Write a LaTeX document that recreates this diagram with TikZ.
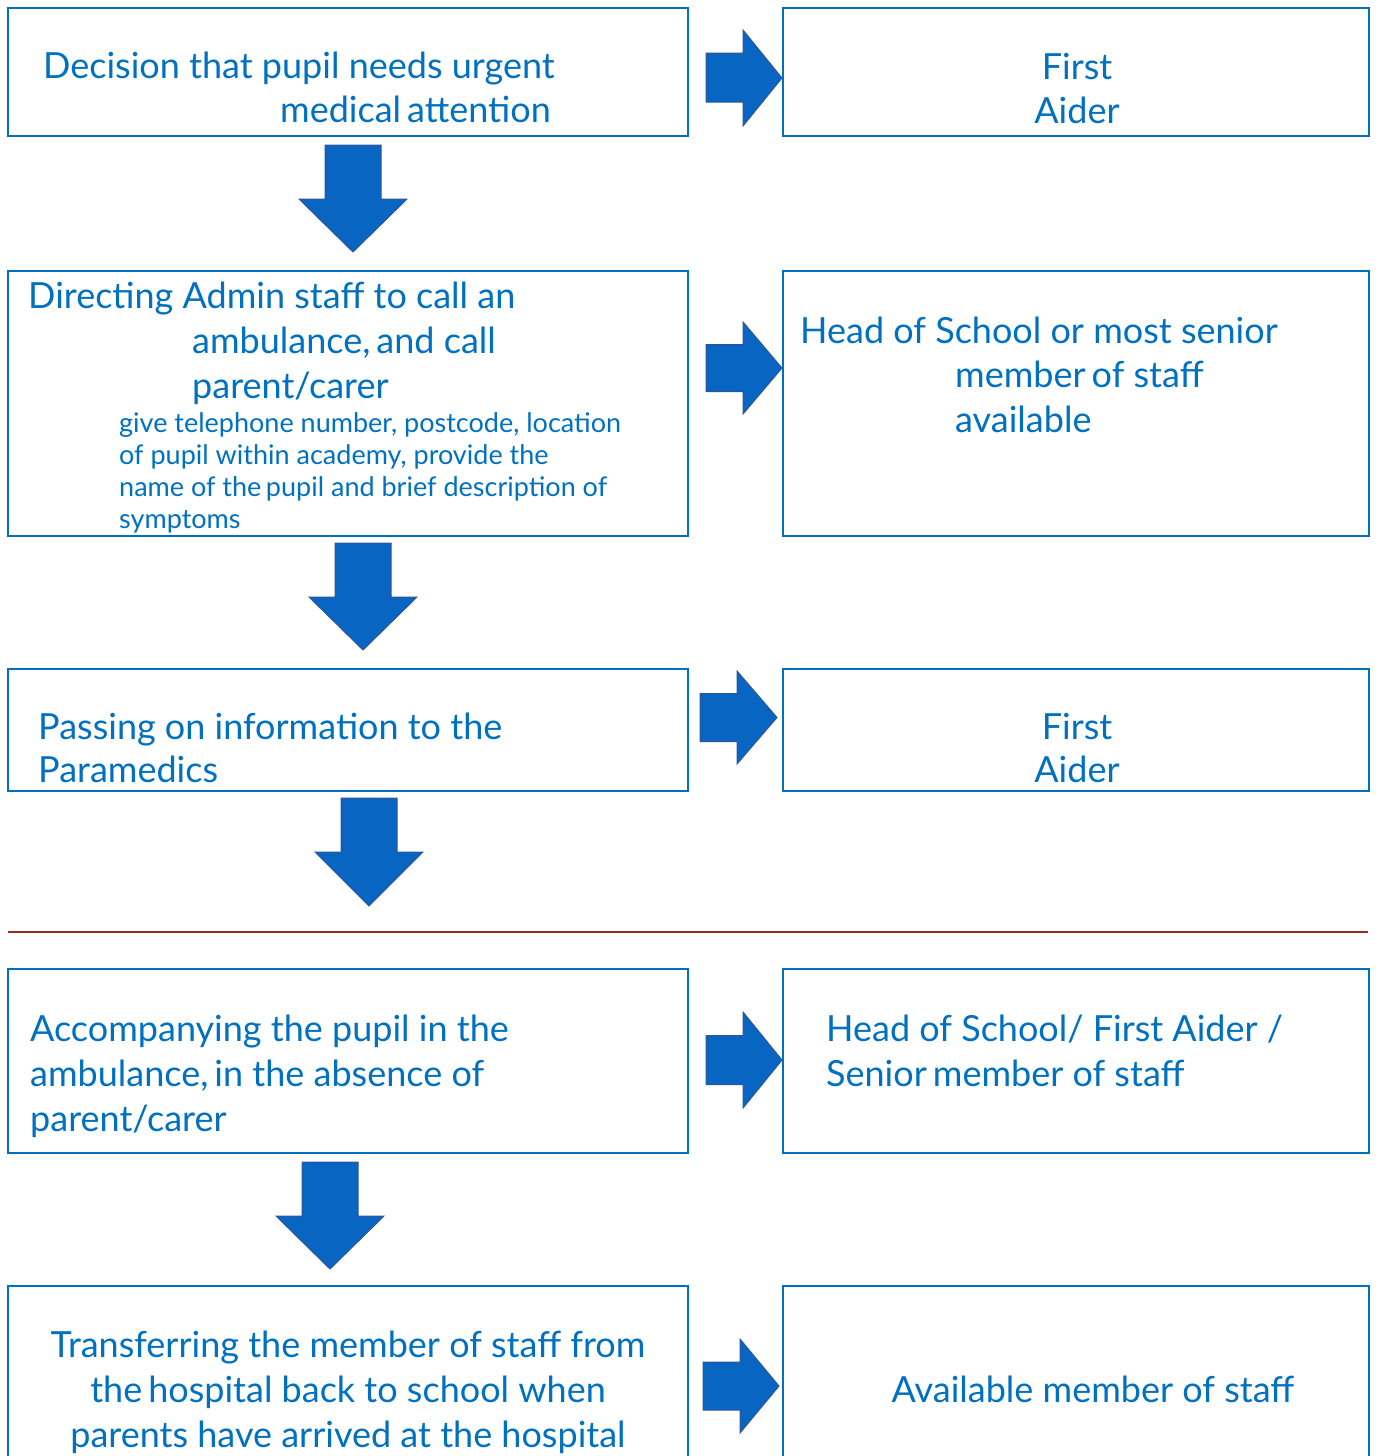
\documentclass[tikz,border=0pt]{standalone}
\usepackage{fontspec}
\setmainfont{Lato}
\definecolor{txtblue}{HTML}{0070C0}
\definecolor{boxblue}{HTML}{0070C0}
\definecolor{arrfill}{HTML}{0866C2}
\definecolor{arredge}{HTML}{2F5597}
\definecolor{sepred}{HTML}{9C2A16}
\begin{document}
\begin{tikzpicture}[x=1pt,y=-1pt,
  box/.style={draw=boxblue,line width=1.6pt},
  blk/.style={fill=arrfill,draw=arredge,line width=1pt,line join=miter},
  big/.style={inner sep=0pt,text=txtblue,font=\fontsize{36}{42}\selectfont},
  small/.style={inner sep=0pt,text=txtblue,font=\fontsize{27}{32}\selectfont}]
\useasboundingbox (0,0) rectangle (1376,1456);
% boxes
\draw[box] (8,8) rectangle (688,136);
\draw[box] (783,8) rectangle (1369,136);
\draw[box] (8,271) rectangle (688,536);
\draw[box] (783,271) rectangle (1369,536);
\draw[box] (8,669) rectangle (688,791);
\draw[box] (783,669) rectangle (1369,791);
\draw[box] (8,969) rectangle (688,1153);
\draw[box] (783,969) rectangle (1369,1153);
\draw[box] (8,1470) -- (8,1286) -- (688,1286) -- (688,1470);
\draw[box] (783,1470) -- (783,1286) -- (1369,1286) -- (1369,1470);
% separator
\draw[sepred,line width=1.8pt] (8,932) -- (1368,932);
% right block arrows
\draw[blk] (706,53) -- (743,53) -- (743,30) -- (782,78) -- (743,126) -- (743,102) -- (706,102) -- cycle;
\draw[blk] (706,344.5) -- (743,344.5) -- (743,322) -- (782,368) -- (743,414) -- (743,391.5) -- (706,391.5) -- cycle;
\draw[blk] (700,693.5) -- (737,693.5) -- (737,671) -- (777,717.5) -- (737,764) -- (737,741.5) -- (700,741.5) -- cycle;
\draw[blk] (706,1035.5) -- (743,1035.5) -- (743,1012) -- (782,1060) -- (743,1108) -- (743,1084.5) -- (706,1084.5) -- cycle;
\draw[blk] (703,1362) -- (740,1362) -- (740,1339) -- (779,1386) -- (740,1433) -- (740,1410) -- (703,1410) -- cycle;
% down block arrows
\draw[blk] (325,145) -- (381,145) -- (381,199) -- (407,199) -- (353,252) -- (299,199) -- (325,199) -- cycle;
\draw[blk] (335,543) -- (391,543) -- (391,597) -- (417,597) -- (363,650) -- (309,597) -- (335,597) -- cycle;
\draw[blk] (341,798) -- (397,798) -- (397,852) -- (423,852) -- (369,906) -- (315,852) -- (341,852) -- cycle;
\draw[blk] (302,1162) -- (358,1162) -- (358,1216) -- (384,1216) -- (330,1269) -- (276,1216) -- (302,1216) -- cycle;
% texts row 1
\node[big,anchor=base west] (t1a) at (43,78) {Decision that pupil needs urgent};
\node[big,anchor=base west] (t1b) at (280,122) {medical\,attention};
\node[big,anchor=base] (r1a) at (1077,79) {First};
\node[big,anchor=base] (r1b) at (1077,123) {Aider};
% row 2
\node[big,anchor=base west] (t2a) at (28,308) {Directing Admin staff to call an};
\node[big,anchor=base west] (t2b) at (192,353) {ambulance,\,and call};
\node[big,anchor=base west] (t2c) at (192,398) {parent/carer};
\node[small,anchor=base west] (s2a) at (119,432) {give telephone number, postcode, location};
\node[small,anchor=base west] (s2b) at (119,464) {of pupil within academy, provide the};
\node[small,anchor=base west] (s2c) at (119,496) {name of the\,pupil and brief description of};
\node[small,anchor=base west] (s2d) at (119,528) {symptoms};
\node[big,anchor=base west] (r2a) at (800,343) {Head of School or most senior};
\node[big,anchor=base west] (r2b) at (955,387) {member\,of staff};
\node[big,anchor=base west] (r2c) at (955,432) {available};
% row 3
\node[big,anchor=base west] (t3a) at (38,739) {Passing on information to the};
\node[big,anchor=base west] (t3b) at (38,782) {Paramedics};
\node[big,anchor=base] (r3a) at (1077,739) {First};
\node[big,anchor=base] (r3b) at (1077,782) {Aider};
% row 4
\node[big,anchor=base west] (t4a) at (30,1041) {Accompanying the pupil in the};
\node[big,anchor=base west] (t4b) at (30,1086) {ambulance,\,in the absence of};
\node[big,anchor=base west] (t4c) at (30,1131) {parent/carer};
\node[big,anchor=base west] (r4a) at (826,1041) {Head of School/ First Aider /};
\node[big,anchor=base west] (r4b) at (826,1086) {Senior\,member of staff};
% row 5
\node[big,anchor=base] (t5a) at (348,1357) {Transferring the member of staff from};
\node[big,anchor=base] (t5b) at (348,1402) {the\,hospital back to school when};
\node[big,anchor=base] (t5c) at (348,1447) {parents have arrived at the hospital};
\node[big,anchor=base] (r5a) at (1093,1402) {Available member of staff};
\end{tikzpicture}
\end{document}
